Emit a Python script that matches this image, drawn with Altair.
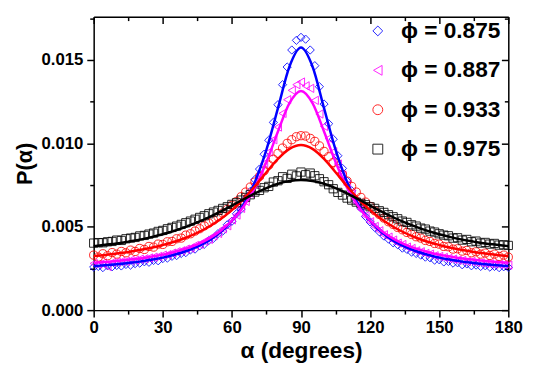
import altair as alt
import pandas as pd

# ---------------- data ----------------
series_labels = ["ϕ = 0.875", "ϕ = 0.887", "ϕ = 0.933", "ϕ = 0.975"]
series_colors = ["#0000ff", "#ff00ff", "#ff0000", "#000000"]
series_shapes = ["diamond", "triangle-left", "circle", "square"]

# measured points, alpha = 0, 2, ..., 180 degrees
alpha_points = list(range(0, 181, 2))
p_blue = [0.00258, 0.00262, 0.00255, 0.00266, 0.00260, 0.00268, 0.00265, 0.00274, 0.00270, 0.00279,
          0.00282, 0.00290, 0.00287, 0.00298, 0.00296, 0.00309, 0.00312, 0.00323, 0.00327, 0.00340,
          0.00345, 0.00361, 0.00366, 0.00385, 0.00395, 0.00418, 0.00431, 0.00459, 0.00474, 0.00512,
          0.00533, 0.00578, 0.00606, 0.00668, 0.00712, 0.00783, 0.00846, 0.00935, 0.01019, 0.01126,
          0.01232, 0.01352, 0.01458, 0.01560, 0.01618, 0.01636, 0.01625, 0.01560, 0.01466, 0.01340,
          0.01236, 0.01118, 0.01025, 0.00926, 0.00850, 0.00774, 0.00716, 0.00652, 0.00612, 0.00562,
          0.00529, 0.00496, 0.00470, 0.00444, 0.00426, 0.00404, 0.00392, 0.00372, 0.00364, 0.00348,
          0.00340, 0.00330, 0.00318, 0.00314, 0.00300, 0.00302, 0.00289, 0.00292, 0.00282, 0.00284,
          0.00272, 0.00277, 0.00266, 0.00270, 0.00262, 0.00266, 0.00258, 0.00262, 0.00255, 0.00260,
          0.00256]
p_magenta = [0.00280, 0.00276, 0.00283, 0.00262, 0.00286, 0.00289, 0.00292, 0.00293, 0.00299, 0.00300,
             0.00306, 0.00308, 0.00313, 0.00318, 0.00322, 0.00330, 0.00333, 0.00342, 0.00350, 0.00356,
             0.00366, 0.00372, 0.00388, 0.00395, 0.00412, 0.00424, 0.00445, 0.00460, 0.00487, 0.00506,
             0.00541, 0.00570, 0.00610, 0.00652, 0.00700, 0.00752, 0.00812, 0.00880, 0.00948, 0.01022,
             0.01098, 0.01180, 0.01262, 0.01318, 0.01352, 0.01368, 0.01345, 0.01330, 0.01258, 0.01176,
             0.01102, 0.01030, 0.00950, 0.00876, 0.00810, 0.00752, 0.00698, 0.00645, 0.00604, 0.00566,
             0.00530, 0.00502, 0.00476, 0.00452, 0.00438, 0.00420, 0.00402, 0.00394, 0.00378, 0.00370,
             0.00356, 0.00350, 0.00340, 0.00336, 0.00326, 0.00322, 0.00316, 0.00310, 0.00306, 0.00300,
             0.00298, 0.00292, 0.00292, 0.00286, 0.00284, 0.00280, 0.00278, 0.00276, 0.00274, 0.00272,
             0.00270]
p_red = [0.00330, 0.00318, 0.00338, 0.00326, 0.00345, 0.00336, 0.00352, 0.00344, 0.00360, 0.00352,
         0.00370, 0.00364, 0.00382, 0.00378, 0.00396, 0.00394, 0.00410, 0.00412, 0.00428, 0.00432,
         0.00450, 0.00458, 0.00474, 0.00488, 0.00505, 0.00522, 0.00540, 0.00560, 0.00582, 0.00604,
         0.00628, 0.00652, 0.00680, 0.00708, 0.00738, 0.00768, 0.00802, 0.00836, 0.00870, 0.00905,
         0.00940, 0.00972, 0.01000, 0.01022, 0.01040, 0.01046, 0.01044, 0.01030, 0.01012, 0.00985,
         0.00952, 0.00920, 0.00886, 0.00848, 0.00812, 0.00774, 0.00742, 0.00708, 0.00676, 0.00648,
         0.00622, 0.00596, 0.00574, 0.00552, 0.00530, 0.00514, 0.00496, 0.00482, 0.00466, 0.00454,
         0.00440, 0.00432, 0.00418, 0.00412, 0.00400, 0.00396, 0.00382, 0.00380, 0.00366, 0.00368,
         0.00354, 0.00358, 0.00344, 0.00350, 0.00336, 0.00342, 0.00328, 0.00336, 0.00322, 0.00330,
         0.00318]
p_black = [0.00402, 0.00405, 0.00404, 0.00410, 0.00412, 0.00420, 0.00418, 0.00428, 0.00432, 0.00436,
           0.00445, 0.00448, 0.00456, 0.00462, 0.00472, 0.00478, 0.00488, 0.00496, 0.00504, 0.00514,
           0.00524, 0.00534, 0.00545, 0.00556, 0.00566, 0.00578, 0.00588, 0.00598, 0.00610, 0.00620,
           0.00634, 0.00644, 0.00660, 0.00676, 0.00692, 0.00708, 0.00718, 0.00734, 0.00742, 0.00768,
           0.00776, 0.00800, 0.00790, 0.00815, 0.00805, 0.00828, 0.00812, 0.00822, 0.00806, 0.00788,
           0.00770, 0.00752, 0.00728, 0.00706, 0.00690, 0.00672, 0.00660, 0.00648, 0.00640, 0.00632,
           0.00620, 0.00610, 0.00596, 0.00586, 0.00572, 0.00560, 0.00548, 0.00534, 0.00526, 0.00512,
           0.00504, 0.00492, 0.00486, 0.00474, 0.00468, 0.00458, 0.00450, 0.00446, 0.00432, 0.00434,
           0.00420, 0.00424, 0.00410, 0.00414, 0.00402, 0.00406, 0.00396, 0.00400, 0.00390, 0.00392,
           0.00388]

# fitted curves, alpha = 0, 5, ..., 180 degrees
alpha_fit = list(range(0, 181, 5))
fit_blue = [0.00264, 0.00269, 0.00275, 0.00283, 0.00291, 0.00302, 0.00315, 0.00332, 0.00353, 0.00381,
            0.00417, 0.00466, 0.00535, 0.00631, 0.00769, 0.00962, 0.01211, 0.01461, 0.01575, 0.01461,
            0.01211, 0.00962, 0.00769, 0.00631, 0.00535, 0.00466, 0.00417, 0.00381, 0.00353, 0.00332,
            0.00315, 0.00302, 0.00291, 0.00283, 0.00275, 0.00269, 0.00264]
fit_magenta = [0.00284, 0.00289, 0.00295, 0.00302, 0.00310, 0.00321, 0.00333, 0.00349, 0.00369, 0.00395,
               0.00429, 0.00475, 0.00536, 0.00620, 0.00735, 0.00888, 0.01071, 0.01241, 0.01314, 0.01241,
               0.01071, 0.00888, 0.00735, 0.00620, 0.00536, 0.00475, 0.00429, 0.00395, 0.00369, 0.00349,
               0.00333, 0.00321, 0.00310, 0.00302, 0.00295, 0.00289, 0.00284]
fit_red = [0.00324, 0.00331, 0.00340, 0.00349, 0.00361, 0.00374, 0.00391, 0.00410, 0.00434, 0.00464,
           0.00500, 0.00545, 0.00600, 0.00666, 0.00743, 0.00827, 0.00907, 0.00967, 0.00990, 0.00967,
           0.00907, 0.00827, 0.00743, 0.00666, 0.00600, 0.00545, 0.00500, 0.00464, 0.00434, 0.00410,
           0.00391, 0.00374, 0.00361, 0.00349, 0.00340, 0.00331, 0.00324]
fit_black = [0.00384, 0.00392, 0.00400, 0.00411, 0.00423, 0.00438, 0.00455, 0.00475, 0.00499, 0.00526,
             0.00557, 0.00591, 0.00627, 0.00664, 0.00700, 0.00732, 0.00758, 0.00774, 0.00780, 0.00774,
             0.00758, 0.00732, 0.00700, 0.00664, 0.00627, 0.00591, 0.00557, 0.00526, 0.00499, 0.00475,
             0.00455, 0.00438, 0.00423, 0.00411, 0.00400, 0.00392, 0.00384]

x_tick_values = [0, 15, 30, 45, 60, 75, 90, 105, 120, 135, 150, 165, 180]
y_tick_values = [0.0, 0.0025, 0.005, 0.0075, 0.01, 0.0125, 0.015]
y_tick_values_all = [0.0, 0.0025, 0.005, 0.0075, 0.01, 0.0125, 0.015, 0.0175]
y_tick_top = [0.0175]

# ---------------- tables ----------------
point_series = [p_blue, p_magenta, p_red, p_black]
fit_series = [fit_blue, fit_magenta, fit_red, fit_black]

pts_rows = []
for lab, vals in zip(series_labels, point_series):
    for a, v in zip(alpha_points, vals):
        pts_rows.append({"alpha": a, "p": v, "phi": lab})
df_pts = pd.DataFrame(pts_rows)

fit_frames = []
for lab, vals in zip(series_labels, fit_series):
    fit_frames.append(pd.DataFrame({"alpha": alpha_fit, "p": vals, "phi": lab}))

# ---------------- chart ----------------
W, H = 421, 298
FONT = "Liberation Sans"

xscale = alt.Scale(domain=[0, 180], nice=False, zero=False)
yscale = alt.Scale(domain=[0, 0.0176], nice=False, zero=False)

x_major = "datum.value % 30 === 0"
y_major = "abs(datum.value * 200 - round(datum.value * 200)) < 0.001"

common_axis = dict(grid=False, domainColor="black", domainWidth=1.5,
                   tickColor="black", tickWidth=1.5, labelFlush=False, labelOverlap=False)

x_axis_main = alt.Axis(
    values=x_tick_values,
    labelExpr=f"{x_major} ? datum.label : ''",
    tickSize={"condition": {"test": x_major, "value": 7}, "value": 4},
    labelFont=FONT, labelFontSize=17, labelFontWeight="bold", labelColor="black",
    labelPadding=3,
    title="α (degrees)", titleFont=FONT, titleFontSize=23, titleFontWeight="bold",
    titleColor="black", titlePadding=4,
    **common_axis,
)
y_axis_main = alt.Axis(
    values=y_tick_values,
    format=".3f",
    labelExpr=f"{y_major} ? datum.label : ''",
    tickSize={"condition": {"test": y_major, "value": 7}, "value": 4},
    labelFont=FONT, labelFontSize=17, labelFontWeight="bold", labelColor="black",
    labelPadding=4,
    title="P(α)", titleFont=FONT, titleFontSize=22, titleFontWeight="bold",
    titleColor="black", titlePadding=5,
    **common_axis,
)
# mirrored axes (top and right) with inward ticks
x_axis_top = alt.Axis(
    orient="bottom", offset=-H, values=x_tick_values, labels=False, title="",
    tickSize={"condition": {"test": x_major, "value": 7}, "value": 4},
    **common_axis,
)
y_axis_right = alt.Axis(
    orient="left", offset=-W, values=y_tick_values_all, labels=False, title="",
    tickSize={"condition": {"test": y_major, "value": 7}, "value": 4},
    **common_axis,
)
# minor tick at the top of the left axis (no label)
y_axis_left_top = alt.Axis(
    orient="left", values=y_tick_top, labels=False, title="", domain=False,
    tickSize=4, tickColor="black", tickWidth=1.5, grid=False,
)

legend = alt.Legend(
    title=None, orient="none", legendX=277, legendY=3, padding=0,
    labelFont=FONT, labelFontSize=23, labelFontWeight="bold", labelColor="black",
    symbolSize=100, symbolStrokeWidth=1, symbolOpacity=0.85, rowPadding=16, labelOffset=12,
)

points = alt.Chart(df_pts).mark_point(filled=False, size=70, strokeWidth=1, opacity=0.85).encode(
    x=alt.X("alpha:Q", scale=xscale, axis=x_axis_main),
    y=alt.Y("p:Q", scale=yscale, axis=y_axis_main),
    color=alt.Color("phi:N", scale=alt.Scale(domain=series_labels, range=series_colors), legend=legend),
    shape=alt.Shape("phi:N", scale=alt.Scale(domain=series_labels, range=series_shapes), legend=legend),
)

layers = [points]
for i, (df_fit, col) in enumerate(zip(fit_frames, series_colors)):
    xa, ya = None, None
    if i == 0:
        xa, ya = x_axis_top, y_axis_right
    elif i == 1:
        ya = y_axis_left_top
    line = alt.Chart(df_fit).mark_line(color=col, strokeWidth=2.5, interpolate="monotone").encode(
        x=alt.X("alpha:Q", scale=xscale, axis=xa),
        y=alt.Y("p:Q", scale=yscale, axis=ya),
    )
    layers.append(line)

chart = alt.layer(*layers).resolve_axis(x="independent", y="independent").properties(
    width=W, height=H,
).configure_view(stroke="transparent").configure(background="white")

chart.save("out.html", embed_options={"renderer": "svg", "actions": False})
